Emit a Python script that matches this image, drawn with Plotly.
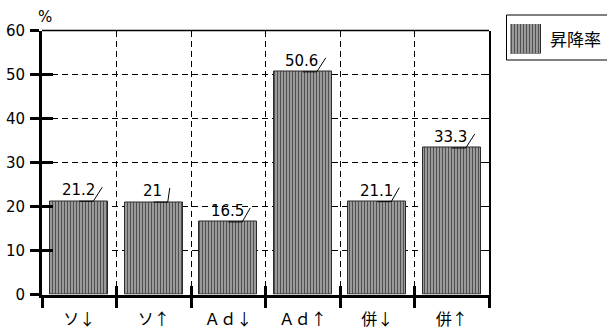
import plotly.graph_objects as go

# Data
categories = ["ソ↓", "ソ↑", "Ａｄ↓", "Ａｄ↑", "併↓", "併↑"]
values = [21.2, 21, 16.5, 50.6, 21.1, 33.3]
series_name = "昇降率"
y_ticks = [0, 10, 20, 30, 40, 50, 60]

# Leader line end offsets (px right of bar centre) for each value label
leader_end = [23, 16, 22, 23, 22, 23]

W, H = 607, 331
LATIN = "DejaVu Sans, Liberation Sans, Arial"
CJK = "Noto Sans CJK JP"

# plot area in pixels
PX0, PX1 = 42, 489
PY_TOP, PY_BOT = 30.5, 294.5
xdom = [PX0 / W, PX1 / W]
ydom = [1 - PY_BOT / H, 1 - PY_TOP / H]

xpos = list(range(len(categories)))
boundaries = [i - 0.5 for i in range(len(categories) + 1)]
xr = [-0.5, len(categories) - 0.5]
yr = [0, 60]

pattern = dict(shape="|", fgcolor="#505050", bgcolor="#a9a9a9", size=3, solidity=0.45, fillmode="replace")

fig = go.Figure()
fig.add_trace(go.Bar(
    x=xpos, y=values, width=0.78, name=series_name,
    marker=dict(color="#a9a9a9", pattern=pattern, line=dict(color="#2a2a2a", width=1)),
    showlegend=False, xaxis="x", yaxis="y",
))

# empty traces so the overlay axes (grid, crossing ticks, right border) get drawn
for xa, ya in [("x2", "y"), ("x3", "y"), ("x", "y2"), ("x", "y3")]:
    fig.add_trace(go.Scatter(x=[None], y=[None], xaxis=xa, yaxis=ya, mode="markers",
                             showlegend=False, hoverinfo="skip"))

# legend swatch
fig.add_trace(go.Bar(
    x=[0], y=[1], width=1, showlegend=False, xaxis="x6", yaxis="y6",
    marker=dict(color="#a9a9a9", pattern=pattern, line=dict(color="#2a2a2a", width=1)),
    hoverinfo="skip",
))

grid = dict(showgrid=True, gridcolor="#000000", gridwidth=1, griddash="6px,4px")
hidden = dict(showticklabels=False, showgrid=False, zeroline=False)
nomargin = dict(automargin=False)

layout = dict(
    template="none",
    width=W, height=H, margin=dict(l=0, r=0, t=0, b=0, pad=0),
    paper_bgcolor="white", plot_bgcolor="white", showlegend=False,
    bargap=0,
    xaxis=dict(domain=xdom, range=xr, anchor="y", tickmode="array", tickvals=xpos, ticktext=categories,
               ticks="outside", ticklen=8, tickcolor="rgba(0,0,0,0)",
               tickfont=dict(family=CJK, size=16, color="#000"),
               showline=True, linecolor="#000", linewidth=3, showgrid=False, zeroline=False, **nomargin),
    xaxis2=dict(overlaying="x", anchor="y", range=xr, tickmode="array", tickvals=boundaries,
                ticks="outside", ticklen=12, tickwidth=3, tickcolor="#000",
                showticklabels=False, zeroline=False, showline=False, **grid, **nomargin),
    xaxis3=dict(overlaying="x", anchor="y", range=xr, tickmode="array", tickvals=boundaries,
                ticks="inside", ticklen=9, tickwidth=3, tickcolor="#000", showline=False, **hidden, **nomargin),
    yaxis=dict(domain=ydom, range=yr, anchor="x", tickmode="array", tickvals=y_ticks,
               ticks="outside", ticklen=9, tickwidth=3, tickcolor="#000",
               tickfont=dict(family=LATIN, size=15, color="#000"), ticklabelstandoff=2,
               showline=True, linecolor="#000", linewidth=3, zeroline=False, **grid, **nomargin),
    yaxis2=dict(overlaying="y", anchor="x", side="left", range=yr, tickmode="array", tickvals=y_ticks,
                ticks="inside", ticklen=11, tickwidth=3, tickcolor="#000", showline=False, **hidden, **nomargin),
    yaxis3=dict(overlaying="y", anchor="x", side="right", range=yr, tickmode="array", tickvals=y_ticks,
                ticks="inside", ticklen=8, tickwidth=1, tickcolor="#000",
                showline=True, linecolor="#000", linewidth=1.5, **hidden, **nomargin),
    xaxis6=dict(domain=[510 / W, 541 / W], range=[-0.5, 0.5], anchor="y6", visible=False, fixedrange=True),
    yaxis6=dict(domain=[1 - 53.5 / H, 1 - 24 / H], range=[0, 1], anchor="x6", visible=False, fixedrange=True),
)
fig.update_layout(**layout)

shapes = [
    # top border of the plot area
    dict(type="line", xref="x domain", yref="y domain", x0=0, x1=1, y0=1, y1=1,
         line=dict(color="#000", width=1.5)),
    # legend frame
    dict(type="rect", xref="paper", yref="paper", x0=506.5 / W, x1=1.05, y0=1 - 60 / H, y1=1 - 15 / H,
         line=dict(color="#000", width=1), fillcolor="rgba(0,0,0,0)"),
]
annotations = [
    dict(text="%", xref="paper", yref="paper", x=45 / W, y=1 - 17 / H, xanchor="center", yanchor="middle",
         showarrow=False, font=dict(family=LATIN, size=15, color="#000")),
    dict(text=series_name, xref="paper", yref="paper", x=548 / W, y=1 - 38.5 / H, xanchor="left",
         yanchor="middle", showarrow=False, font=dict(family=CJK, size=17, color="#000")),
]
for i, v in enumerate(values):
    annotations.append(dict(
        text=f"{v:g}", x=i, y=v, xref="x", yref="y", xanchor="center", yanchor="bottom",
        showarrow=False, yshift=0, xshift=-1, font=dict(family=LATIN, size=15, color="#000"),
    ))
    shapes.append(dict(
        type="path", xref="x", yref="y", xsizemode="pixel", ysizemode="pixel",
        xanchor=i, yanchor=v, path=f"M0,0 L14,0 L{leader_end[i]},14",
        line=dict(color="#000", width=1),
    ))
fig.update_layout(shapes=shapes, annotations=annotations)

fig.write_html("out.html")
